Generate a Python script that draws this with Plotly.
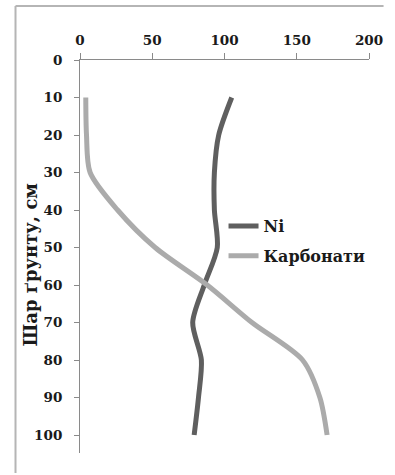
import plotly.graph_objects as go

# Soil depth profile (cm) and measured values
depth = [10, 20, 30, 40, 50, 60, 70, 80, 90, 100]
ni = [105, 96, 93, 93, 95, 86, 78, 84, 82, 79]
carbonates = [4, 4.5, 7, 26, 52, 88, 119, 154, 166, 171]

x_ticks = [0, 50, 100, 150, 200]
y_ticks = [0, 10, 20, 30, 40, 50, 60, 70, 80, 90, 100]

FONT = "DejaVu Serif"
W, H = 395, 475
ML, MR, MT, MB = 80, 17, 60, 22
PW = W - ML - MR
PH = H - MT - MB


def px_x(p):
    return (p - ML) / PW


def px_y(p):
    return (H - MB - p) / PH


fig = go.Figure()
fig.add_trace(go.Scatter(
    x=ni, y=depth, name="Ni", mode="lines", legendgroup="ni",
    line=dict(color="#5f5f5f", width=5, shape="spline", smoothing=0.8),
))
fig.add_trace(go.Scatter(
    x=carbonates, y=depth, name="Карбонати", mode="lines", legendgroup="carb",
    line=dict(color="#ababab", width=5, shape="spline", smoothing=0.8),
))

axis_common = dict(
    showgrid=False, zeroline=False, showline=True,
    linecolor="#8a8a8a", linewidth=1,
    ticks="outside", tickcolor="#8a8a8a", tickwidth=1,
    tickfont=dict(family=FONT, size=13.5, color="#1a1a1a", weight="bold"),
)

# Outer frame: only its left and top edges fall inside the canvas
frame = dict(color="#b5b5b5", width=2)
shapes = [
    dict(type="line", xref="paper", yref="paper",
         x0=px_x(13.5), x1=px_x(13.5), y0=px_y(H - 2), y1=px_y(6), line=frame),
    dict(type="line", xref="paper", yref="paper",
         x0=px_x(13.5), x1=px_x(W - 2), y0=px_y(6), y1=px_y(6), line=frame),
]

fig.update_layout(
    width=W, height=H,
    margin=dict(l=ML, r=MR, t=MT, b=MB),
    paper_bgcolor="white", plot_bgcolor="white",
    showlegend=True,
    legend=dict(
        x=px_x(228), y=px_y(209), xanchor="left", yanchor="top",
        bgcolor="rgba(0,0,0,0)", borderwidth=0,
        font=dict(family=FONT, size=16, color="#1a1a1a", weight="bold"),
        traceorder="grouped", tracegroupgap=6, itemwidth=30,
    ),
    xaxis=dict(
        side="top", range=[0, 200], tickvals=x_ticks,
        ticklen=6, ticklabelstandoff=3, **axis_common,
    ),
    yaxis=dict(
        range=[104.8, 0], tickvals=y_ticks,
        ticklen=5, ticklabelstandoff=9, **axis_common,
    ),
    annotations=[dict(
        text="Шар ґрунту, см", textangle=-90,
        xref="paper", yref="paper", x=px_x(28), y=px_y(265),
        xanchor="center", yanchor="middle", showarrow=False,
        font=dict(family=FONT, size=18, color="#1a1a1a", weight="bold"),
    )],
    shapes=shapes,
)

fig.write_html("out.html")
